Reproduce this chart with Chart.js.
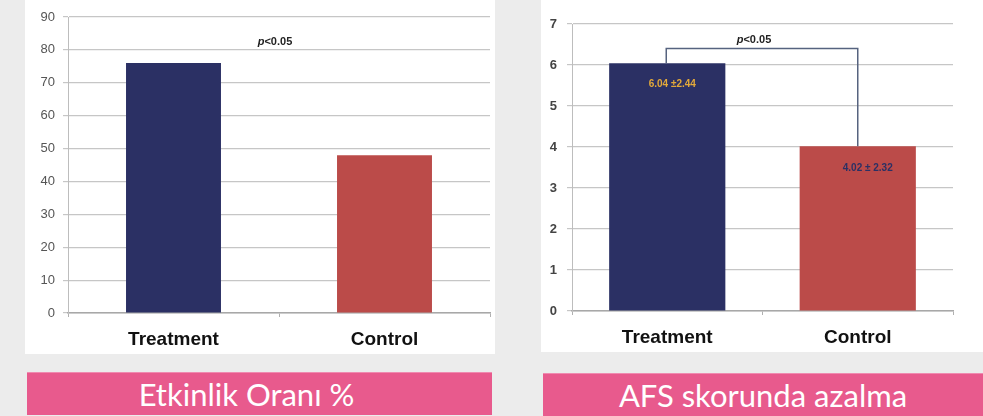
<!DOCTYPE html>
<html><head><meta charset="utf-8">
<script src="https://cdn.jsdelivr.net/npm/chart.js@4/dist/chart.umd.min.js"></script>
<style>
html,body{margin:0;padding:0;}
body{width:983px;height:416px;background:#ececec;position:relative;overflow:hidden;font-family:"Liberation Sans",Arial,sans-serif;}
.panel{position:absolute;background:#fff;}
.banner{position:absolute;background:#e85a8d;color:#fff;font-family:Lato,"Open Sans",sans-serif;font-size:31px;line-height:42px;text-align:center;border-top:1px solid #f08ab0;}
canvas{position:absolute;}
</style></head>
<body>
<div class="panel" style="left:25px;top:0;width:470px;height:354px;"></div>
<div class="panel" style="left:541px;top:0;width:442px;height:352px;"></div>
<div style="position:absolute;left:25px;top:0;width:470px;height:355px;"><canvas id="c1"></canvas></div>
<div style="position:absolute;left:540px;top:0;width:443px;height:355px;"><canvas id="c2"></canvas></div>
<div class="banner" style="left:27px;top:372px;width:465px;height:43px;padding-right:26px;box-sizing:border-box;">Etkinlik Oranı %</div>
<div class="banner" style="left:543px;top:373px;width:440px;height:43px;">AFS skorunda azalma</div>
<script>
const categories = ['Treatment', 'Control'];
const efficacyValues = [76, 48];
const afsValues = [6.04, 4.02];
const afsSD = [2.44, 2.32];
const pText = 'p<0.05';
const efficacyAxis = {min: 0, max: 90, step: 10};
const afsAxis = {min: 0, max: 7, step: 1};
const efficacyPLevel = 82.4;
const afsBracketLevel = 6.4;

const barColors = ['#2b3064', '#bb4b49'];
const gridColor = '#c6c6c6';

function drawP(ctx, x, y) {
  ctx.save();
  ctx.textBaseline = 'middle';
  ctx.font = 'italic bold 11px "Liberation Sans", Arial';
  const pw = ctx.measureText('p').width;
  ctx.font = 'bold 11px "Liberation Sans", Arial';
  const rw = ctx.measureText(pText.slice(1)).width;
  const x0 = x - (pw + rw) / 2;
  ctx.fillStyle = '#222';
  ctx.font = 'italic bold 11px "Liberation Sans", Arial';
  ctx.textAlign = 'left';
  ctx.fillText('p', x0, y);
  ctx.font = 'bold 11px "Liberation Sans", Arial';
  ctx.fillText(pText.slice(1), x0 + pw, y);
  ctx.restore();
}

function makeChart(id, values, axis, opts) {
  const canvas = document.getElementById(id);
  return new Chart(canvas, {
    type: 'bar',
    data: {
      labels: categories,
      datasets: [{
        data: values,
        backgroundColor: barColors,
        borderWidth: 0,
        barPercentage: opts.barPct,
        categoryPercentage: 1.0
      }]
    },
    options: {
      responsive: true,
      maintainAspectRatio: false,
      animation: false,
      events: [],
      layout: {padding: {left: 0, top: opts.top, right: opts.right, bottom: 0}},
      plugins: {legend: {display: false}, tooltip: {enabled: false}},
      scales: {
        x: {
          grid: {display: true, drawOnChartArea: false, tickLength: 4, color: '#b0b0b0'},
          border: {color: '#a8a8a8', width: 1.5},
          ticks: {color: '#111', padding: 11, font: {family: '"Liberation Sans", Arial', size: 19, weight: 'bold'}},
          afterFit: s => { s.height = opts.xh; }
        },
        y: {
          min: axis.min, max: axis.max,
          ticks: {stepSize: axis.step, color: opts.tickColor, padding: opts.tickPad, font: {family: '"Liberation Sans", Arial', size: 13, weight: opts.tickWeight}},
          grid: {color: gridColor, lineWidth: 1.2, tickLength: 5},
          border: {color: '#bdbdbd', width: 1},
          afterFit: s => { s.width = opts.yw; }
        }
      }
    },
    plugins: [{id: 'annot', afterDatasetsDraw: opts.annot}]
  });
}

makeChart('c1', efficacyValues, efficacyAxis, {
  barPct: 0.45, top: 17, right: 5, xh: 42, yw: 43, tickPad: 8, tickColor: '#555', tickWeight: 'normal',
  annot(chart) {
    const x = chart.scales.x, y = chart.scales.y;
    const mid = (x.getPixelForValue(0) + x.getPixelForValue(1)) / 2 - 4;
    drawP(chart.ctx, mid, y.getPixelForValue(efficacyPLevel));
  }
});

makeChart('c2', afsValues, afsAxis, {
  barPct: 0.61, top: 24, right: 30, xh: 44, yw: 32, tickPad: 10, tickColor: '#444', tickWeight: 'bold',
  annot(chart) {
    const ctx = chart.ctx, x = chart.scales.x, y = chart.scales.y;
    const x0 = x.getPixelForValue(0) - 1, x1 = x.getPixelForValue(1);
    const yb = y.getPixelForValue(afsBracketLevel);
    ctx.save();
    ctx.strokeStyle = '#56637f';
    ctx.lineWidth = 1.5;
    ctx.beginPath();
    ctx.moveTo(x0, y.getPixelForValue(afsValues[0]));
    ctx.lineTo(x0, yb);
    ctx.lineTo(x1, yb);
    ctx.lineTo(x1, y.getPixelForValue(afsValues[1]));
    ctx.stroke();
    ctx.restore();
    drawP(ctx, (x0 + x1) / 2 - 8, yb - 9);
    ctx.save();
    ctx.font = 'bold 10px "Liberation Sans", Arial';
    ctx.textAlign = 'center';
    ctx.textBaseline = 'middle';
    ctx.fillStyle = '#e3a93a';
    ctx.fillText(afsValues[0].toFixed(2) + ' \u00b1' + afsSD[0].toFixed(2), x.getPixelForValue(0) + 5, y.getPixelForValue(afsValues[0]) + 21);
    ctx.fillStyle = '#2b3064';
    ctx.fillText(afsValues[1].toFixed(2) + ' \u00b1 ' + afsSD[1].toFixed(2), x.getPixelForValue(1) + 10, y.getPixelForValue(afsValues[1]) + 22);
    ctx.restore();
  }
});
</script>
</body></html>
